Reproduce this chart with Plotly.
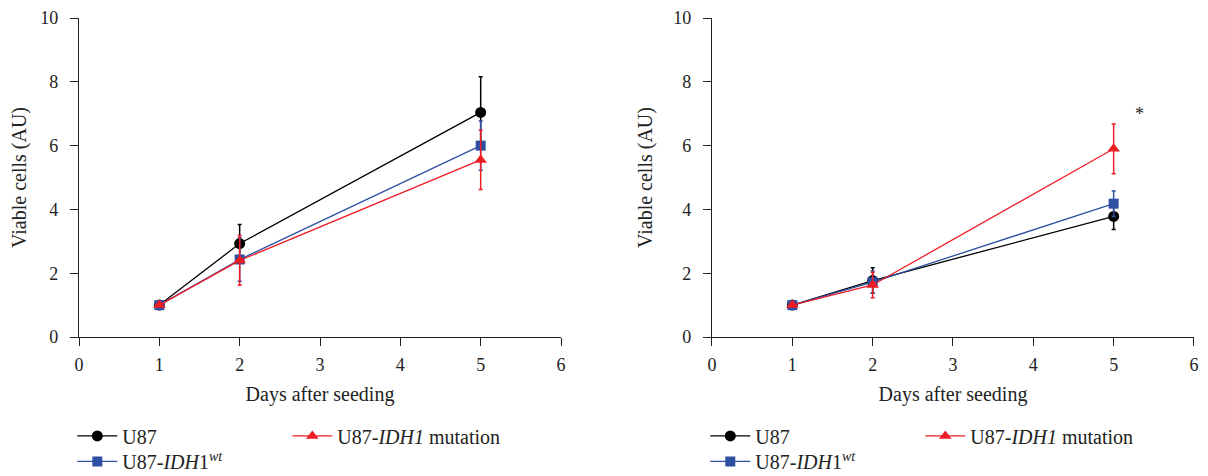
import plotly.graph_objects as go

days = [1, 2, 5]

# Left panel
left_u87 = [1.0, 2.93, 7.04]
left_u87_err = [0.0, 0.6, 1.12]
left_wt = [1.0, 2.43, 6.0]
left_wt_err = [0.0, 0.68, 0.77]
left_mut = [1.0, 2.40, 5.55]
left_mut_err = [0.0, 0.78, 0.93]

# Right panel
right_u87 = [1.0, 1.77, 3.78]
right_u87_err = [0.0, 0.4, 0.41]
right_wt = [1.0, 1.72, 4.18]
right_wt_err = [0.0, 0.35, 0.4]
right_mut = [1.0, 1.63, 5.9]
right_mut_err = [0.0, 0.4, 0.78]

names = ["U87", "U87-<i>IDH</i>1<sup><i>wt</i></sup>", "U87-<i>IDH1</i> mutation"]
colors = ["#000000", "#2f4fa2", "#ee1c25"]
symbols = ["circle", "square", "triangle-up"]

FONT = "Liberation Serif"

fig = go.Figure()

panels = [
    ("x", "y", [left_u87, left_wt, left_mut], [left_u87_err, left_wt_err, left_mut_err], ["legend", "legend2", "legend"]),
    ("x2", "y2", [right_u87, right_wt, right_mut], [right_u87_err, right_wt_err, right_mut_err], ["legend3", "legend4", "legend3"]),
]

for xa, ya, vals, errs, legs in panels:
    for i in range(3):
        fig.add_trace(go.Scatter(
            x=days, y=vals[i], xaxis=xa, yaxis=ya,
            mode="lines+markers",
            name=names[i],
            legend=legs[i],
            line=dict(color=colors[i], width=1.3),
            marker=dict(symbol=symbols[i], size=11 if i != 1 else 10, color=colors[i]),
            error_y=dict(type="data", array=errs[i], visible=True, color=colors[i], thickness=1.5, width=2),
        ))

axis_common = dict(
    range=[0, 6], tickvals=[0, 1, 2, 3, 4, 5, 6], ticks="outside", ticklen=8, tickwidth=1.2,
    tickcolor="#222", showline=True, linecolor="#222", linewidth=1.4, showgrid=False, zeroline=False,
    tickfont=dict(family=FONT, size=18, color="#222"), ticklabelstandoff=3, ticklabeloverflow="allow",
    title=dict(text="Days after seeding", font=dict(family=FONT, size=20, color="#222"), standoff=13),
)
yaxis_common = dict(
    range=[0, 10], tickvals=[0, 2, 4, 6, 8, 10], ticks="outside", ticklen=8, tickwidth=1.2,
    tickcolor="#222", showline=True, linecolor="#222", linewidth=1.4, showgrid=False, zeroline=False,
    tickfont=dict(family=FONT, size=18, color="#222"), ticklabelstandoff=8, ticklabeloverflow="allow",
    title=dict(text="Viable cells (AU)", font=dict(family=FONT, size=20, color="#222"), standoff=15),
)

legend_common = dict(
    orientation="h", font=dict(family=FONT, size=20, color="#222"),
    bgcolor="rgba(0,0,0,0)", borderwidth=0, yanchor="middle", xanchor="left",
    entrywidth=160, entrywidthmode="pixels", tracegroupgap=0, itemwidth=40,
)

# The page body has an 8px margin, so the figure is sized to fit the window.
fig.update_layout(
    width=1200, height=468,
    margin=dict(l=71, r=14, t=10, b=139, autoexpand=False),
    paper_bgcolor="white", plot_bgcolor="white",
    font=dict(family=FONT, size=18, color="#222"),
    xaxis=dict(domain=[0, 0.4323], anchor="y", **axis_common),
    yaxis=dict(domain=[0, 1], anchor="x", **yaxis_common),
    xaxis2=dict(domain=[0.5677, 1.0], anchor="y2", **axis_common),
    yaxis2=dict(domain=[0, 1], anchor="x2", **yaxis_common),
    legend=dict(x=-0.006, y=-0.31, **legend_common),
    legend2=dict(x=-0.006, y=-0.39, **legend_common),
    legend3=dict(x=0.5617, y=-0.31, **legend_common),
    legend4=dict(x=0.5617, y=-0.39, **legend_common),
    annotations=[dict(x=5.32, y=7.0, xref="x2", yref="y2", text="*", showarrow=False,
                      font=dict(family=FONT, size=18, color="#222"))],
)

fig.write_html("out.html")
